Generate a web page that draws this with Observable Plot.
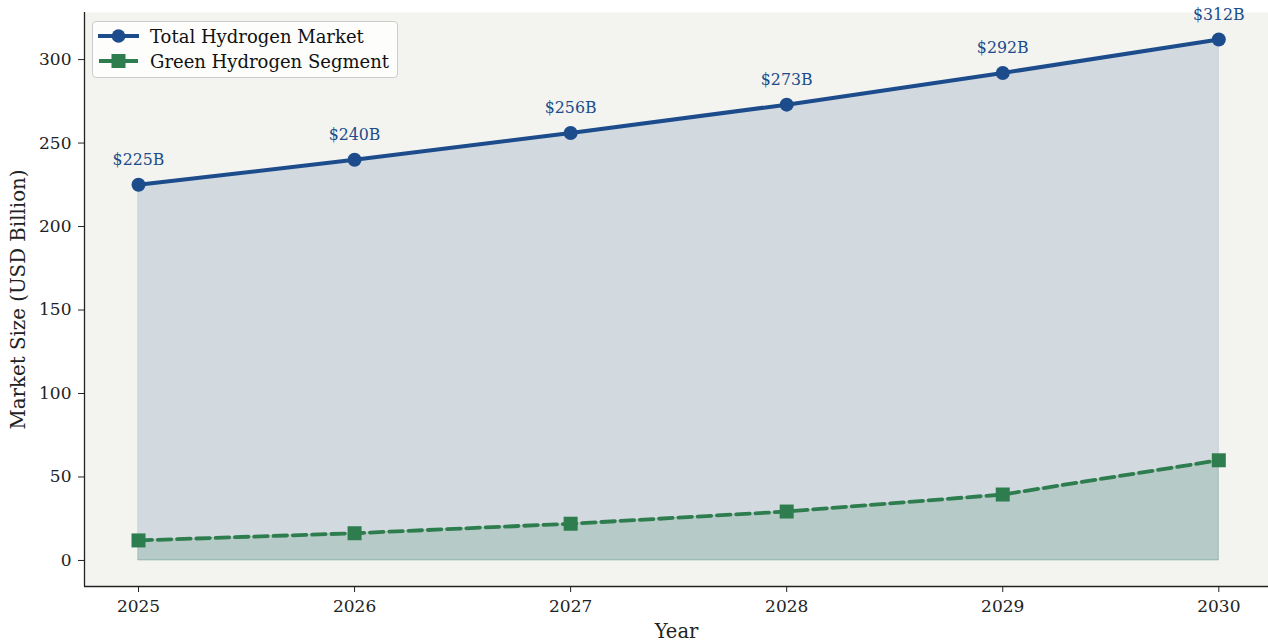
<!DOCTYPE html>
<html><head><meta charset="utf-8">
<script src="https://cdn.jsdelivr.net/npm/d3@7"></script>
<script src="https://cdn.jsdelivr.net/npm/@observablehq/plot@0.6"></script>
<style>
html,body{margin:0;padding:0;background:#fff;}
#wrap{position:relative;width:1268px;height:644px;font-family:"DejaVu Serif",serif;}
#legend{position:absolute;left:92px;top:21px;width:306px;height:57px;background:rgba(255,255,255,0.8);border:1px solid #cccccc;border-radius:4px;box-sizing:border-box;font-size:18px;color:#111;}
.lrow{position:absolute;left:5px;display:flex;align-items:center;white-space:nowrap;}
.lrow span{margin-left:11px;}
</style></head>
<body><div id="wrap"><div id="chart"></div>
<div id="legend">
<div class="lrow" style="top:3px"><svg width="41" height="22"><line x1="0" y1="11" x2="41" y2="11" stroke="#1c4c8c" stroke-width="4"/><circle cx="20.5" cy="11" r="6.8" fill="#1c4c8c"/></svg><span>Total Hydrogen Market</span></div>
<div class="lrow" style="top:28px"><svg width="41" height="22"><line x1="1" y1="11" x2="14" y2="11" stroke="#2e7d4f" stroke-width="4"/><line x1="27" y1="11" x2="40" y2="11" stroke="#2e7d4f" stroke-width="4"/><rect x="13.5" y="4" width="14" height="14" fill="#2e7d4f"/></svg><span>Green Hydrogen Segment</span></div>
</div></div>
<script>
const years = [2025, 2026, 2027, 2028, 2029, 2030];
const totalMarket = [225, 240, 256, 273, 292, 312];
const greenSegment = [12, 16.3, 22, 29.3, 39.5, 60];
const labels = ["$225B", "$240B", "$256B", "$273B", "$292B", "$312B"];
const yTicks = [0, 50, 100, 150, 200, 250, 300];

const data = years.map((y, i) => ({year: y, total: totalMarket[i], green: greenSegment[i], label: labels[i]}));
const blue = "#1c4c8c", green = "#2e7d4f";
const yMin = -15.6, yMax = 328.2, xMin = 2024.75, xMax = 2030.23;

const chart = Plot.plot({
  width: 1268, height: 644,
  marginLeft: 84, marginRight: 0, marginTop: 12, marginBottom: 58,
  style: {fontFamily: "DejaVu Serif, serif", fontSize: "14px", color: "#222", background: "#fff"},
  x: {domain: [xMin, xMax], ticks: years, tickFormat: d => String(d)},
  y: {domain: [yMin, yMax], ticks: yTicks},
  marks: [
    Plot.frame({fill: "#f3f4ef", stroke: "none"}),
    Plot.areaY(data, {x: "year", y: "total", fill: blue, fillOpacity: 0.15, stroke: blue, strokeOpacity: 0.15, strokeWidth: 1}),
    Plot.areaY(data, {x: "year", y: "green", fill: green, fillOpacity: 0.17, stroke: green, strokeOpacity: 0.15, strokeWidth: 1}),
    Plot.lineY(data, {x: "year", y: "total", stroke: blue, strokeWidth: 4}),
    Plot.lineY(data, {x: "year", y: "green", stroke: green, strokeWidth: 3.8, strokeDasharray: "13.5,5.8"}),
    Plot.dot(data, {x: "year", y: "total", r: 7, fill: blue, stroke: "none"}),
    Plot.dot(data, {x: "year", y: "green", r: 7.9, symbol: "square", fill: green, stroke: "none"}),
    Plot.text(data, {x: "year", y: "total", text: "label", dy: -25, fill: blue, fontSize: 15.8}),
    Plot.axisX({ticks: years, tickFormat: d => String(d), tickSize: 6, tickPadding: 7, fontSize: 17, label: null, stroke: "#222"}),
    Plot.axisY({ticks: yTicks, tickSize: 6, tickPadding: 7, fontSize: 17, label: null, stroke: "#222"}),
    Plot.ruleX([xMin], {stroke: "#222", strokeWidth: 1.3}),
    Plot.ruleY([yMin], {stroke: "#222", strokeWidth: 1.3}),
    Plot.text(["Year"], {frameAnchor: "bottom", dy: 51, fontSize: 19.5, fill: "#222"}),
    Plot.text(["Market Size (USD Billion)"], {frameAnchor: "left", textAnchor: "middle", dx: -66, rotate: -90, fontSize: 19.8, fill: "#222"})
  ]
});
document.getElementById("chart").appendChild(chart);
</script></body></html>
